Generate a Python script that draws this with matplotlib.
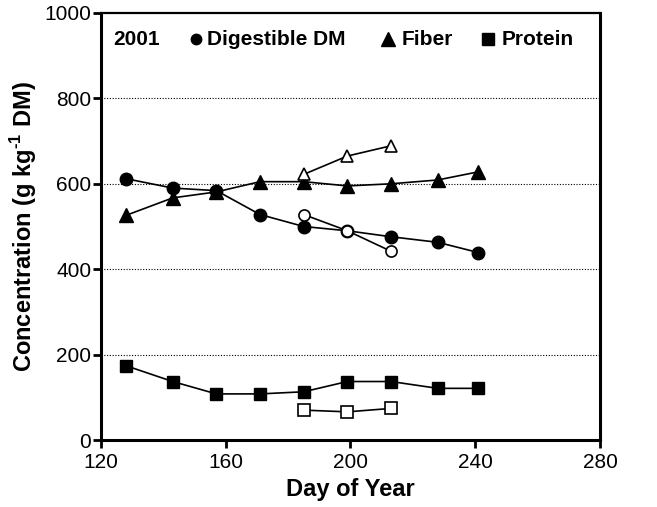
import matplotlib
matplotlib.use('Agg')
import matplotlib.pyplot as plt

plt.rcParams['font.family'] = ['Liberation Sans', 'DejaVu Sans']
plt.rcParams['mathtext.fontset'] = 'custom'
plt.rcParams['mathtext.rm'] = 'Liberation Sans:bold'
plt.rcParams['mathtext.bf'] = 'Liberation Sans:bold'

# day of year for each sampling
days = [128, 143, 157, 171, 185, 199, 213, 228, 241]
digest = [612, 590, 584, 528, 500, 490, 476, 463, 439]
fiber = [526, 567, 581, 605, 605, 595, 600, 609, 628]
protein = [174, 137, 108, 108, 113, 137, 137, 121, 121]

# open symbols (subset of days)
days_open = [185, 199, 213]
digest_open = [528, 490, 442]
fiber_open = [622, 665, 689]
protein_open = [70, 66, 74]

fig = plt.figure(figsize=(6.57, 5.07), dpi=100)
ax = fig.add_axes([0.1537, 0.1321, 0.7595, 0.8423])

lw = 1.2
ms = 9
ax.plot(days, digest, '-o', color='black', lw=lw, ms=ms, zorder=3)
ax.plot(days, fiber, '-^', color='black', lw=lw, ms=ms + 1, zorder=3)
ax.plot(days, protein, '-s', color='black', lw=lw, ms=ms, zorder=3)
ax.plot(days_open, digest_open, '-o', color='black', mfc='white', mew=1.2, lw=lw, ms=ms - 1, zorder=4)
ax.plot(days_open, fiber_open, '-^', color='black', mfc='white', mew=1.2, lw=lw, ms=ms, zorder=4)
ax.plot(days_open, protein_open, '-s', color='black', mfc='white', mew=1.2, lw=lw, ms=ms - 1, zorder=4)

ax.set_xlim(120, 280)
ax.set_ylim(0, 1000)
ax.set_xticks([120, 160, 200, 240, 280])
ax.set_yticks([0, 200, 400, 600, 800, 1000])
for yv in [200, 400, 600, 800]:
    ax.axhline(yv, color='black', lw=0.8, ls=(0, (1, 1.5)), zorder=1)

for s in ['left', 'bottom', 'right']:
    ax.spines[s].set_linewidth(2.2)
ax.spines['top'].set_linewidth(1.6)
ax.tick_params(axis='both', direction='out', width=2, length=6, labelsize=15)
ax.tick_params(axis='x', top=False, pad=3)
ax.tick_params(axis='y', right=False, pad=1)

ax.set_xlabel('Day of Year', fontsize=17, fontweight='bold', labelpad=5)
ax.set_ylabel(r'Concentration (g kg$^{\text{-}1}$ DM)', fontsize=17, fontweight='bold', labelpad=4)

# in-plot legend line
ly = 939
ax.text(123.8, ly, '2001', fontsize=15, fontweight='bold', va='center', ha='left')
ax.plot([150.6], [ly], 'o', color='black', ms=7.5)
ax.text(154.0, ly, 'Digestible DM', fontsize=15, fontweight='bold', va='center', ha='left')
ax.plot([212], [ly], '^', color='black', ms=ms + 1)
ax.text(216.5, ly, 'Fiber', fontsize=15, fontweight='bold', va='center', ha='left')
ax.plot([244], [ly], 's', color='black', ms=ms - 1)
ax.text(248.6, ly, 'Protein', fontsize=15, fontweight='bold', va='center', ha='left')

fig.savefig('out.png', dpi=100)
